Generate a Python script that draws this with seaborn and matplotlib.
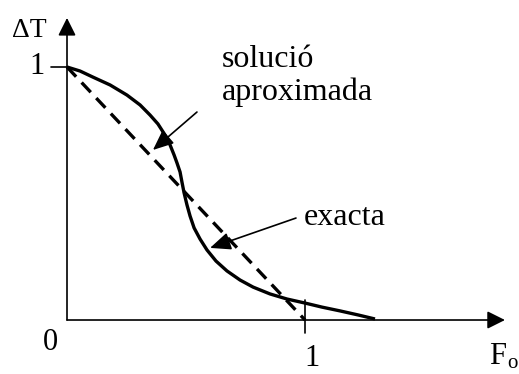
import matplotlib
matplotlib.use("Agg")
import matplotlib.pyplot as plt
import seaborn as sns
import pandas as pd

# Fourier number vs. dimensionless temperature difference
fo_exact = [0.0, 0.055, 0.109, 0.181, 0.252, 0.307, 0.349, 0.382, 0.412,
            0.433, 0.450, 0.462, 0.475, 0.483, 0.492, 0.504, 0.517, 0.534,
            0.559, 0.588, 0.626, 0.672, 0.727, 0.782, 0.853, 0.924, 1.0,
            1.071, 1.147, 1.223, 1.294]
dt_exact = [1.0, 0.984, 0.960, 0.929, 0.889, 0.850, 0.810, 0.775, 0.731,
            0.692, 0.652, 0.621, 0.585, 0.545, 0.502, 0.455, 0.411, 0.364,
            0.320, 0.277, 0.233, 0.194, 0.158, 0.130, 0.103, 0.083, 0.067,
            0.051, 0.036, 0.020, 0.004]

fo_approx = [0.0, 1.0]
dt_approx = [1.0, 0.0]

x_ticks = [0, 1]
y_ticks = [0, 1]
x_tick_labels = ["0", "1"]
y_tick_labels = ["0", "1"]

W, H = 519, 374
sns.set_theme(style="white")
plt.rcParams["font.family"] = ["Liberation Serif", "DejaVu Serif"]

fig = plt.figure(figsize=(W / 100, H / 100), dpi=100)
ax = fig.add_axes([0, 0, 1, 1])
ax.set_xlim(-0.2815, 1.899)
ax.set_ylim(-0.2134, 1.2648)
ax.axis("off")

exact = pd.DataFrame({"Fo": fo_exact, "dT": dt_exact})
approx = pd.DataFrame({"Fo": fo_approx, "dT": dt_approx})

sns.lineplot(data=approx, x="Fo", y="dT", ax=ax, color="black", lw=2.4,
             sort=False, linestyle=(0, (4.0, 2.4)))
sns.lineplot(data=exact, x="Fo", y="dT", ax=ax, color="black",
             lw=2.4, sort=False)
for ln in ax.get_lines():
    ln.set_solid_joinstyle("round")
    ln.set_solid_capstyle("butt")

# axes with arrow heads
axis_arrow = dict(arrowstyle="-|>,head_length=0.6,head_width=0.3",
                  mutation_scale=18, lw=1.2, color="black",
                  shrinkA=0, shrinkB=0)
ax.annotate("", xy=(1.840, 0), xytext=(0, 0), arrowprops=axis_arrow)
ax.annotate("", xy=(0, 1.194), xytext=(0, 0), arrowprops=axis_arrow)

# tick marks
ax.plot([-0.067, 0.004], [y_ticks[1], y_ticks[1]], color="black", lw=1.2)
ax.plot([x_ticks[1], x_ticks[1]], [0.079, -0.051], color="black", lw=1.2)

# callouts
call_arrow = dict(arrowstyle="-|>,head_length=0.7,head_width=0.3",
                  mutation_scale=18, lw=1.2, color="black",
                  shrinkA=0, shrinkB=0)
ax.annotate("", xy=(0.361, 0.672), xytext=(0.546, 0.822), arrowprops=call_arrow)
ax.annotate("", xy=(0.601, 0.285), xytext=(0.962, 0.403), arrowprops=call_arrow)


def px_text(x, y, s, size=23, **kw):
    fig.text(x / W, 1 - y / H, s, fontsize=size, color="black", **kw)


px_text(12, 37, "ΔT", size=20, ha="left", va="baseline")
px_text(45, 67, y_tick_labels[1], size=22, ha="right", va="center")
px_text(50, 342, x_tick_labels[0], size=22, ha="center", va="center")
px_text(312, 366, x_tick_labels[1], size=22, ha="center", va="baseline")
px_text(489, 364, "F", size=22, ha="left", va="baseline")
px_text(507, 368, "o", size=15, ha="left", va="baseline")
px_text(222, 67, "solució", ha="left", va="baseline")
px_text(222, 100, "aproximada", ha="left", va="baseline")
px_text(304, 225, "exacta", ha="left", va="baseline")

fig.savefig("out.png", dpi=100)
